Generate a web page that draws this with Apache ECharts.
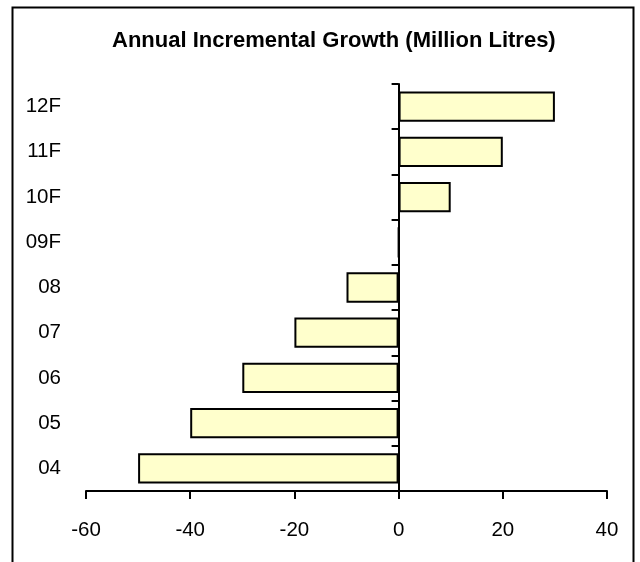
<!DOCTYPE html>
<html>
<head>
<meta charset="utf-8">
<script src="https://cdn.jsdelivr.net/npm/echarts@6/dist/echarts.min.js"></script>
<style>html,body{margin:0;padding:0;background:#fff}#c{width:640px;height:562px}</style>
</head>
<body>
<div id="c"></div>
<script>
const categories = ['04', '05', '06', '07', '08', '09F', '10F', '11F', '12F'];
const values = [-50, -40, -30, -20, -10, 0, 10, 20, 30];
const xTicks = { min: -60, max: 40, interval: 20 };
const titleText = 'Annual Incremental Growth (Million Litres)';

const chart = echarts.init(document.getElementById('c'), null, { renderer: 'canvas' });
const font = '"Liberation Sans", Arial, sans-serif';
chart.setOption({
  animation: false,
  backgroundColor: '#fff',
  title: {
    text: titleText, left: 107, top: 25,
    textStyle: { fontFamily: font, fontSize: 22, fontWeight: 'bold', color: '#000' }
  },
  graphic: [{
    type: 'rect', shape: { x: 12.5, y: 7.5, width: 621, height: 600 },
    style: { fill: null, stroke: '#000', lineWidth: 2 }, silent: true, z: 100
  }],
  grid: { left: 86, right: 33, top: 84, bottom: 71, containLabel: false },
  xAxis: {
    type: 'value', min: xTicks.min, max: xTicks.max, interval: xTicks.interval,
    splitLine: { show: false },
    axisLine: { show: true, onZero: false, lineStyle: { color: '#000', width: 2 } },
    axisTick: { show: true, length: 8, lineStyle: { color: '#000', width: 2 } },
    axisLabel: { fontFamily: font, fontSize: 20.5, color: '#000', margin: 29 }
  },
  yAxis: [{
    type: 'category', data: categories,
    axisLine: { show: true, onZero: true, lineStyle: { color: '#000', width: 2 } },
    axisTick: { show: true, length: 7, lineStyle: { color: '#000', width: 2 } },
    axisLabel: { show: false },
    splitLine: { show: false }
  }, {
    type: 'category', data: categories, position: 'left',
    axisLine: { show: false }, axisTick: { show: false }, splitLine: { show: false },
    axisLabel: { fontFamily: font, fontSize: 20.5, color: '#000', margin: 25 }
  }],
  series: [{
    type: 'bar', data: values, yAxisIndex: 0,
    barCategoryGap: '33%',
    itemStyle: { color: '#FFFFCC', borderColor: '#000', borderWidth: 2 }
  }]
});
</script>
</body>
</html>
